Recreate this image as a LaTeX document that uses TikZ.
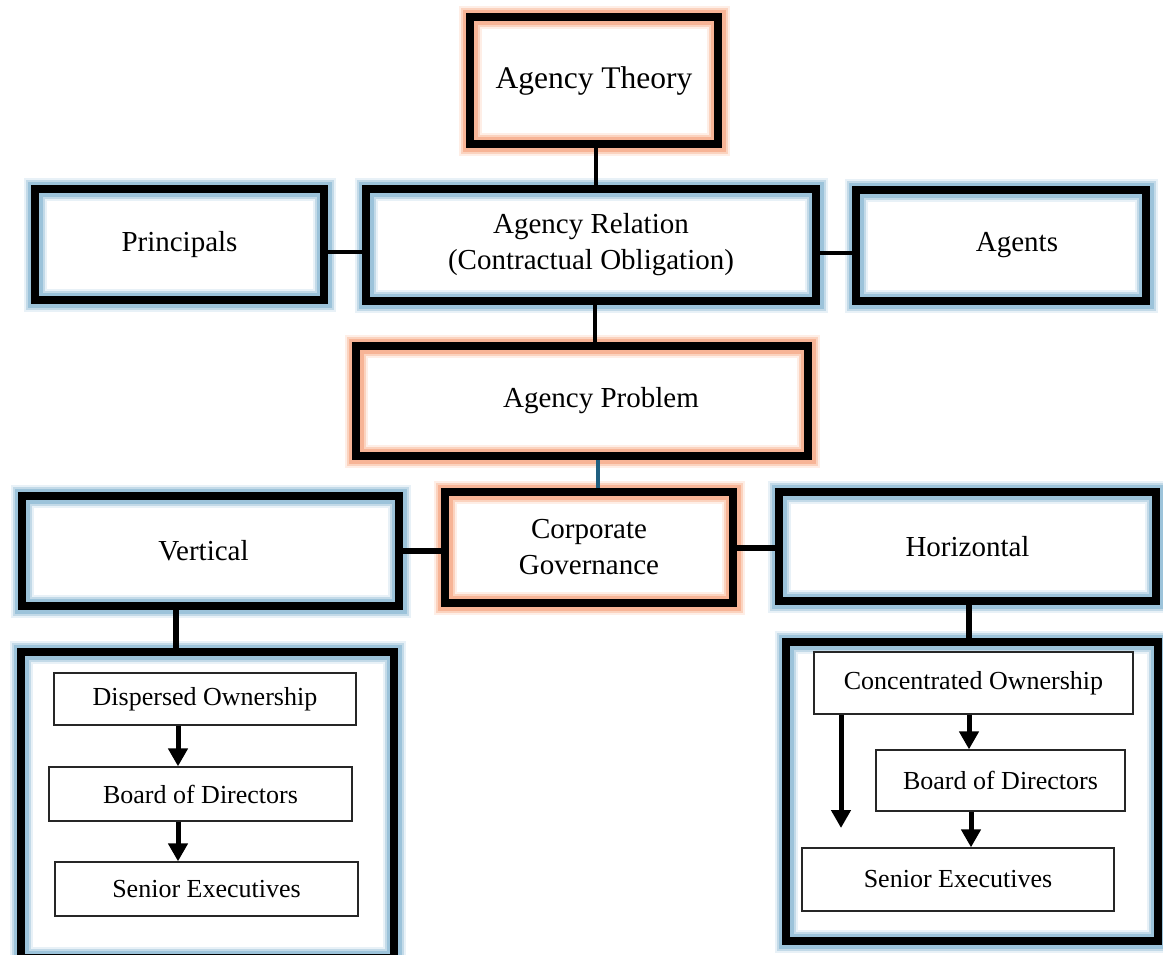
\documentclass[tikz,border=0pt]{standalone}
\usepackage{fontspec}
\setmainfont{Liberation Serif}
\usetikzlibrary{arrows.meta,calc}
\definecolor{bglowa}{HTML}{E8F1F7}
\definecolor{bglowb}{HTML}{C3DAE8}
\definecolor{bglowc}{HTML}{9CC3DA}
\definecolor{oglowa}{HTML}{FEEEE6}
\definecolor{oglowb}{HTML}{FBD3BF}
\definecolor{oglowc}{HTML}{F7B496}
\definecolor{tealline}{HTML}{1F5F80}
\tikzset{
  bigbox/.style={draw=black, line width=8pt, rectangle, inner sep=0pt, align=center,
    font=\fontsize{29}{36}\selectfont},
  blueglow/.style={bigbox, preaction={draw=bglowa, line width=23pt}, preaction={draw=bglowb, line width=19pt}, preaction={draw=bglowc, line width=15pt}},
  orangeglow/.style={bigbox, preaction={draw=oglowa, line width=23pt}, preaction={draw=oglowb, line width=19pt}, preaction={draw=oglowc, line width=15pt}},
  smallbox/.style={draw=black!85, line width=1.3pt, fill=white, inner sep=0pt,
    font=\fontsize{26}{30}\selectfont},
  conn/.style={line width=4pt},
  thickconn/.style={line width=6pt},
  arr/.style={line width=5pt, -{Triangle[width=19pt,length=18pt]}},
}
\begin{document}
\begin{tikzpicture}[x=1pt,y=-1pt]
\clip (0,0) rectangle (1163,954);
\fill[white] (0,0) rectangle (1163,954);

\node[orangeglow, minimum width=248pt, minimum height=127pt] (AT) at (594,80.5) {\fontsize{31.5}{36}\selectfont Agency Theory};
\node[blueglow, minimum width=289pt, minimum height=111pt] (P) at (179.5,244.5) {Principals};
\node[blueglow, minimum width=450pt, minimum height=112pt] (AR) at (591,245) {Agency Relation\\(Contractual Obligation)};
\node[blueglow, minimum width=290pt, minimum height=111pt] (AG) at (1001,245.5) {\hspace*{32pt}Agents};
\node[orangeglow, minimum width=452pt, minimum height=110pt] (AP) at (582,401) {\hspace*{38pt}Agency Problem};
\node[blueglow, minimum width=377pt, minimum height=110pt] (V) at (210.5,551) {Vertical\hspace*{14pt}};
\node[orangeglow, minimum width=288pt, minimum height=111pt] (CG) at (589,547.5) {Corporate\\Governance};
\node[blueglow, minimum width=377pt, minimum height=109pt] (H) at (967.5,546.5) {Horizontal};
\node[blueglow, minimum width=373pt, minimum height=306pt] (LB) at (207.5,805) {};
\node[blueglow, minimum width=372pt, minimum height=299pt] (RB) at (972,791.5) {};

\node[smallbox, minimum width=302pt, minimum height=52pt] (DO) at (205,699) {Dispersed Ownership};
\node[smallbox, minimum width=303pt, minimum height=54pt] (BL) at (200.5,794) {Board of Directors};
\node[smallbox, minimum width=303pt, minimum height=54pt] (SL) at (206.5,889) {Senior Executives};
\node[smallbox, minimum width=319pt, minimum height=62pt] (CO) at (973.5,683) {Concentrated Ownership};
\node[smallbox, minimum width=249pt, minimum height=61pt] (BR) at (1000.5,780.5) {Board of Directors};
\node[smallbox, minimum width=312pt, minimum height=63pt] (SR) at (958,879.5) {Senior Executives};

% connectors
\draw[conn] ([xshift=2pt]AT.south) -- ([xshift=2pt]AT.south |- AR.north);
\draw[conn, line width=3.5pt] ([yshift=-7.5pt]P.east) -- ([yshift=-7.5pt]P.east -| AR.west);
\draw[conn, line width=3.5pt] ([yshift=-8pt]AR.east) -- ([yshift=-8pt]AR.east -| AG.west);
\draw[conn] ([xshift=4pt]AR.south) -- ([xshift=4pt]AR.south |- AP.north);
\draw[conn, tealline] ([xshift=9pt]CG.north) -- ([xshift=9pt]CG.north |- AP.south);
\draw[thickconn] (V.east) -- (V.east -| CG.west);
\draw[thickconn] (CG.east) -- (CG.east -| H.west);
\draw[thickconn] ([xshift=-34.5pt]V.south) -- ([xshift=-34.5pt]V.south |- LB.north);
\draw[thickconn] ([xshift=1.5pt]H.south) -- ([xshift=1.5pt]H.south |- RB.north);

% arrows
\draw[arr] ([xshift=-27pt]DO.south) -- ([xshift=-27pt]DO.south |- BL.north);
\draw[arr] ([xshift=-22.5pt]BL.south) -- ([xshift=-22.5pt]BL.south |- SL.north);
\draw[arr] ([xshift=-4.5pt]CO.south) -- ([xshift=-4.5pt]CO.south |- BR.north);
\draw[arr] ([xshift=-29.5pt]BR.south) -- ([xshift=-29.5pt]BR.south |- SR.north);
\coordinate (LE) at (841,828);
\draw[arr] (CO.south -| LE) -- (LE);
\end{tikzpicture}
\end{document}
